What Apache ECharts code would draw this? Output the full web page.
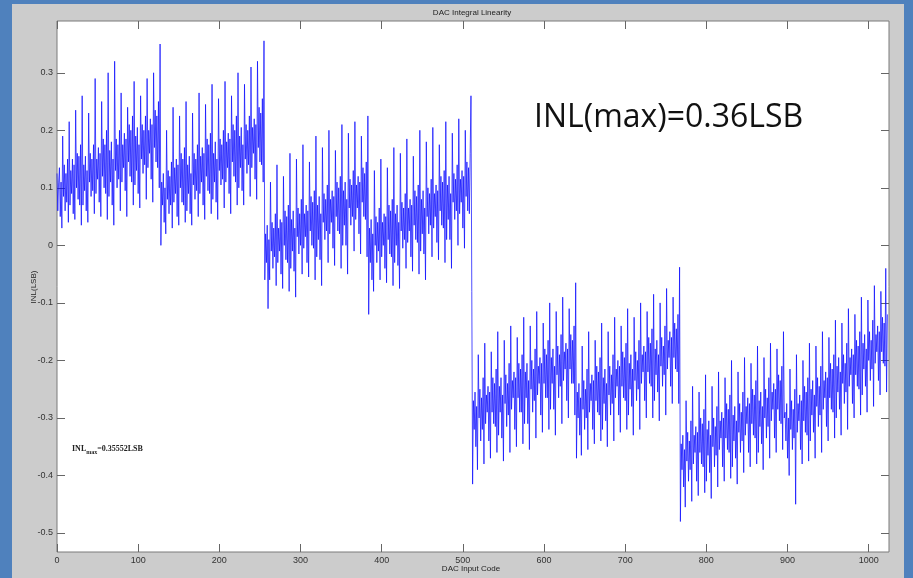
<!DOCTYPE html>
<html>
<head>
<meta charset="utf-8">
<title>DAC Integral Linearity</title>
<script src="https://cdn.jsdelivr.net/npm/echarts@6/dist/echarts.min.js"></script>
<style>
  html, body { margin: 0; padding: 0; width: 913px; height: 578px; overflow: hidden; background: #4f81bd; }
  #figure { position: absolute; left: 12px; top: 4px; width: 892px; height: 574px; background: #cccccc; }
  #chart { position: absolute; left: 0; top: 0; width: 913px; height: 578px; }
</style>
</head>
<body>
<div id="figure"></div>
<div id="chart"></div>
<script>
// INL per input code, in units of 0.001 LSB, one array per 128-code segment
const seg0 = [
  125, 60, 110, 135, 50, 110, 30, 190, 85, 140, 60, 125, 75, 150, 40, 215, 70, 130, 90, 150, 55, 140, 45, 235, 100, 160, 80, 155, 70, 175, 35, 260,
  70, 140, 95, 155, 60, 130, 40, 230, 110, 160, 85, 150, 95, 175, 55, 290, 90, 150, 115, 170, 75, 160, 50, 250, 120, 185, 100, 175, 90, 200, 45, 300,
  85, 165, 110, 180, 70, 150, 35, 320, 130, 185, 100, 175, 115, 200, 60, 265, 110, 175, 135, 195, 95, 185, 50, 240, 145, 210, 120, 200, 110, 225, 70, 285,
  105, 190, 130, 205, 90, 175, 65, 260, 150, 210, 125, 200, 140, 225, 80, 290, 135, 200, 160, 220, 115, 210, 75, 300, 170, 235, 145, 225, 135, 250, 100, 350
];
const seg1 = [
  0, 110, 70, 125, 40, 100, 20, 200, 80, 130, 55, 120, 70, 145, 30, 240, 75, 135, 90, 150, 50, 140, 35, 225, 100, 160, 75, 150, 70, 170, 40, 250,
  60, 140, 90, 155, 55, 125, 35, 230, 105, 160, 80, 150, 95, 175, 50, 265, 90, 155, 110, 170, 70, 160, 45, 245, 120, 185, 95, 175, 90, 195, 55, 280,
  80, 160, 110, 180, 75, 150, 45, 255, 130, 185, 105, 175, 115, 200, 65, 285, 110, 180, 135, 195, 90, 185, 55, 260, 145, 210, 120, 200, 110, 225, 70, 300,
  100, 190, 135, 205, 95, 175, 70, 280, 150, 210, 125, 200, 140, 225, 85, 310, 135, 205, 160, 220, 115, 210, 80, 320, 170, 240, 145, 230, 140, 255, 110, 355.52
];
const seg2 = [
  -60, 20, -30, 35, -110, 10, -60, 110, -10, 40, -40, 30, -20, 55, -70, 140, -30, 30, -10, 45, -50, 40, -75, 120, 0, 60, -25, 50, -30, 70, -80, 160,
  -40, 45, -10, 60, -45, 30, -90, 150, 15, 65, -15, 55, 0, 80, -50, 175, -5, 55, 15, 70, -30, 60, -55, 145, 25, 85, 0, 75, -5, 95, -60, 190,
  -20, 70, 10, 85, -25, 55, -70, 170, 40, 90, 10, 80, 25, 105, -30, 200, 20, 80, 40, 95, -5, 85, -35, 165, 50, 110, 25, 100, 20, 120, -40, 210,
  0, 95, 35, 110, 0, 80, -50, 195, 65, 115, 35, 105, 50, 130, -10, 215, 45, 105, 65, 120, 20, 110, -15, 190, 75, 135, 50, 125, 45, 145, -20, 225
];
const seg3 = [
  -120, 30, -30, 45, -60, 20, -80, 130, 0, 50, -30, 40, -10, 65, -60, 150, -20, 40, 0, 55, -40, 50, -65, 135, 10, 70, -15, 60, -20, 80, -70, 170,
  -30, 55, 0, 70, -35, 40, -75, 160, 25, 75, -5, 65, 10, 90, -40, 185, 5, 65, 25, 80, -20, 70, -45, 155, 35, 95, 10, 85, 5, 105, -50, 200,
  -10, 80, 20, 95, -15, 65, -60, 180, 50, 100, 20, 90, 35, 115, -20, 205, 30, 90, 50, 105, 5, 95, -25, 175, 60, 120, 35, 110, 30, 130, -30, 215,
  10, 105, 45, 120, 10, 90, -40, 195, 75, 125, 45, 115, 60, 140, 0, 220, 55, 115, 75, 130, 30, 120, -5, 200, 85, 145, 60, 135, 55, 160, 260, -80
];
const seg4 = [
  -415, -270, -320, -255, -350, -280, -390, -190, -300, -250, -340, -265, -320, -230, -380, -170, -310, -260, -290, -245, -340, -255, -370, -185, -290, -230, -310, -240, -315, -215, -360, -150,
  -330, -245, -290, -230, -335, -260, -375, -165, -275, -225, -315, -240, -295, -205, -360, -140, -285, -235, -265, -220, -320, -230, -350, -160, -265, -205, -290, -215, -290, -190, -345, -125,
  -310, -220, -265, -205, -310, -235, -355, -140, -250, -200, -290, -215, -270, -180, -335, -115, -260, -210, -240, -195, -295, -205, -325, -135, -240, -180, -265, -190, -265, -165, -320, -100,
  -285, -195, -240, -180, -285, -210, -330, -115, -225, -175, -265, -190, -245, -155, -310, -90, -235, -185, -215, -170, -270, -180, -300, -110, -215, -155, -240, -165, -240, -140, -295, -65
];
const seg5 = [
  -370, -255, -300, -240, -330, -265, -365, -175, -285, -235, -320, -250, -300, -215, -355, -150, -290, -240, -270, -225, -320, -235, -345, -165, -270, -210, -290, -220, -295, -195, -340, -135,
  -320, -230, -275, -215, -305, -240, -350, -150, -260, -210, -295, -225, -275, -190, -340, -125, -265, -215, -245, -200, -295, -210, -325, -140, -245, -185, -265, -195, -270, -170, -320, -110,
  -295, -205, -250, -190, -280, -215, -330, -125, -235, -185, -270, -200, -250, -165, -320, -100, -240, -190, -220, -175, -270, -185, -300, -115, -220, -160, -240, -170, -245, -145, -300, -85,
  -270, -180, -225, -165, -255, -190, -305, -100, -210, -160, -245, -175, -225, -140, -295, -75, -215, -165, -195, -150, -245, -160, -275, -90, -195, -135, -215, -145, -220, -120, -275, -38
];
const seg6 = [
  -480, -345, -390, -330, -420, -355, -455, -270, -375, -325, -410, -340, -390, -305, -445, -245, -380, -330, -360, -315, -410, -325, -435, -255, -360, -300, -380, -310, -385, -285, -430, -225,
  -410, -320, -365, -305, -395, -330, -440, -245, -350, -300, -385, -315, -365, -280, -420, -220, -355, -305, -335, -290, -385, -300, -410, -230, -335, -275, -355, -285, -360, -260, -405, -200,
  -385, -295, -340, -280, -370, -305, -415, -220, -325, -275, -360, -290, -340, -255, -395, -195, -330, -280, -310, -265, -360, -275, -385, -205, -310, -250, -330, -260, -335, -235, -380, -175,
  -360, -270, -315, -255, -345, -280, -390, -195, -300, -250, -335, -265, -315, -230, -370, -170, -305, -255, -285, -240, -335, -250, -360, -180, -285, -225, -305, -235, -310, -210, -355, -150
];
const seg7 = [
  -300, -290, -340, -275, -370, -300, -400, -215, -320, -270, -355, -285, -335, -250, -450, -190, -325, -275, -305, -260, -355, -270, -380, -200, -305, -245, -325, -255, -330, -230, -375, -170,
  -340, -250, -295, -235, -325, -260, -370, -175, -280, -230, -315, -245, -295, -210, -360, -150, -285, -235, -265, -220, -315, -230, -340, -160, -265, -205, -285, -215, -290, -190, -335, -130,
  -300, -210, -255, -195, -285, -220, -330, -135, -240, -190, -275, -205, -255, -170, -320, -110, -245, -195, -225, -180, -275, -190, -300, -120, -225, -165, -245, -175, -250, -150, -295, -90,
  -260, -170, -215, -155, -245, -180, -290, -95, -200, -150, -235, -165, -215, -130, -280, -70, -205, -155, -185, -140, -235, -150, -260, -80, -185, -125, -205, -135, -210, -40, -255, -120
];

const segments = [seg0, seg1, seg2, seg3, seg4, seg5, seg6, seg7];
const xTicks = [0, 100, 200, 300, 400, 500, 600, 700, 800, 900, 1000];
const yTicks = [-0.5, -0.4, -0.3, -0.2, -0.1, 0, 0.1, 0.2, 0.3];

const inl = [];
segments.forEach(function (seg) {
  seg.forEach(function (v) { inl.push([inl.length, v / 1000]); });
});

const chart = echarts.init(document.getElementById('chart'), null, { renderer: 'canvas' });

const labelFont = { color: '#333', fontSize: 9, fontFamily: 'Liberation Sans, Arial, sans-serif' };
const tickStyle = { inside: true, length: 8, lineStyle: { color: '#666', width: 1 } };

function xAxisDef(pos, showLabel) {
  return {
    type: 'value', position: pos, min: 0, max: 1025,
    axisLine: { show: false, onZero: false },
    splitLine: { show: false },
    axisTick: Object.assign({ customValues: xTicks }, tickStyle),
    axisLabel: Object.assign({ show: showLabel, margin: 4, customValues: xTicks,
      formatter: function (v) { return String(v); } }, labelFont)
  };
}
function yAxisDef(pos, showLabel) {
  return {
    type: 'value', position: pos, min: -0.533, max: 0.39,
    axisLine: { show: false, onZero: false },
    splitLine: { show: false },
    axisTick: Object.assign({ customValues: yTicks }, tickStyle),
    axisLabel: Object.assign({ show: showLabel, margin: 4, customValues: yTicks,
      formatter: function (v) { return String(Math.round(v * 10) / 10); } }, labelFont)
  };
}

chart.setOption({
  animation: false,
  backgroundColor: 'transparent',
  grid: {
    left: 57, top: 21, width: 832, height: 531,
    show: true, backgroundColor: '#ffffff', borderColor: '#7a7a7a', borderWidth: 1
  },
  xAxis: [xAxisDef('bottom', true), xAxisDef('top', false)],
  yAxis: [yAxisDef('left', true), yAxisDef('right', false)],
  series: [{
    type: 'line',
    data: inl,
    xAxisIndex: 0, yAxisIndex: 0,
    showSymbol: false,
    symbol: 'none',
    sampling: null,
    lineStyle: { color: '#0a0aff', width: 1, opacity: 0.72 },
    z: 2
  }],
  graphic: [
    { type: 'text', position: [472, 13], style: { text: 'DAC Integral Linearity', align: 'center', verticalAlign: 'middle', fill: '#222', font: '8px Liberation Sans, Arial, sans-serif' } },
    { type: 'text', position: [471, 569], style: { text: 'DAC Input Code', align: 'center', verticalAlign: 'middle', fill: '#222', font: '8px Liberation Sans, Arial, sans-serif' } },
    { type: 'text', position: [34, 287], rotation: Math.PI / 2, style: { text: 'INL(LSB)', align: 'center', verticalAlign: 'middle', fill: '#222', font: '8px Liberation Sans, Arial, sans-serif' } },
    { type: 'text', position: [534, 118], z: 10, style: { text: 'INL(max)=0.36LSB', align: 'left', verticalAlign: 'middle', fill: '#111', font: '32px "Open Sans", Lato, sans-serif' } },
    { type: 'text', position: [72, 449], z: 10, style: {
        text: '{a|INL}{b|max}{a|=0.35552LSB}', verticalAlign: 'middle', align: 'left',
        rich: {
          a: { fill: '#222', fontSize: 8, fontWeight: 'bold', fontFamily: 'Liberation Serif, serif', verticalAlign: 'middle' },
          b: { fill: '#222', fontSize: 6, fontWeight: 'bold', fontFamily: 'Liberation Serif, serif', padding: [6, 0, 0, 0] }
        }
      } }
  ]
});
</script>
</body>
</html>
